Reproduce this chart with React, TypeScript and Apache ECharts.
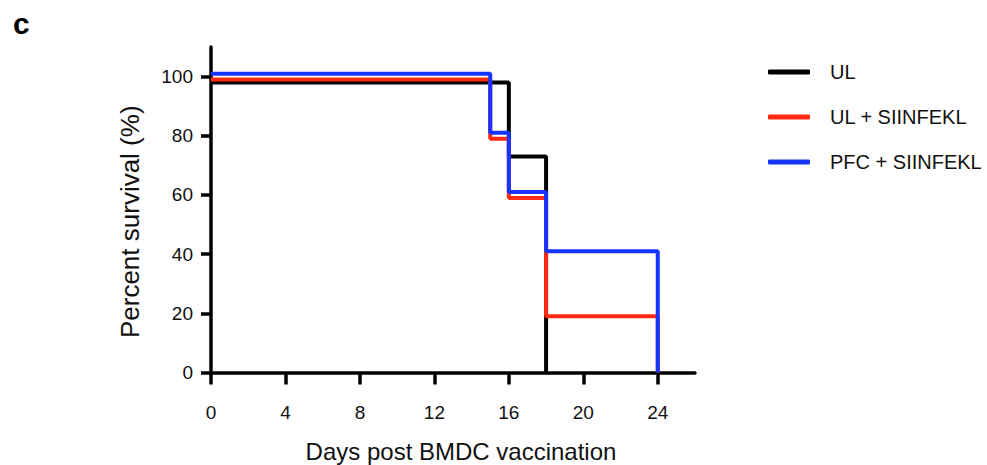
import React, { useEffect, useRef } from "react";
import * as echarts from "echarts";

const xTicks = [0, 4, 8, 12, 16, 20, 24];
const yTicks = [0, 20, 40, 60, 80, 100];
const seriesNames = ["UL", "UL + SIINFEKL", "PFC + SIINFEKL"];
const ulDays = [0, 16, 18];
const ulSurvival = [98, 73, 0];
const ulSiiDays = [0, 15, 16, 18, 24];
const ulSiiSurvival = [99, 79, 59, 19, 0];
const pfcSiiDays = [0, 15, 16, 18, 24];
const pfcSiiSurvival = [101, 81, 61, 41, 0];
const colors = ["#000000", "#ff2a12", "#1733ff"];

const FONT = "'Liberation Sans', Arial, Helvetica, sans-serif";

function pairs(days: number[], surv: number[]) {
  return days.map((d, i) => [d, surv[i]]);
}

export default function App() {
  const ref = useRef<HTMLDivElement>(null);
  useEffect(() => {
    document.body.style.margin = "0";
    if (!ref.current) return;
    const chart = echarts.init(ref.current, null, { renderer: "svg" });
    const groups = [
      pairs(ulDays, ulSurvival),
      pairs(ulSiiDays, ulSiiSurvival),
      pairs(pfcSiiDays, pfcSiiSurvival),
    ];
    chart.setOption({
      animation: false,
      backgroundColor: "#ffffff",
      textStyle: { fontFamily: FONT },
      grid: {
        left: 211,
        right: 292,
        top: 47,
        bottom: 92.5,
        containLabel: false,
        outerBoundsMode: "none",
      },
      graphic: [
        {
          type: "text",
          left: 13,
          top: 8,
          style: { text: "c", font: `bold 30px ${FONT}`, fill: "#000" },
        },
      ],
      legend: {
        orient: "vertical",
        left: 768,
        top: 62,
        padding: 0,
        itemWidth: 42,
        itemHeight: 5,
        itemGap: 25,
        icon: "roundRect",
        data: seriesNames,
        textStyle: {
          fontSize: 20,
          color: "#111",
          fontFamily: FONT,
          lineHeight: 20,
          padding: [0, 0, 0, 15],
        },
      },
      xAxis: {
        type: "value",
        min: 0,
        max: 26,
        name: "Days post BMDC vaccination",
        nameLocation: "middle",
        nameGap: 67,
        nameTextStyle: { fontSize: 24, color: "#111", fontFamily: FONT, padding: [0, 0, 0, 16] },
        axisLine: { show: true, onZero: false, lineStyle: { color: "#000", width: 3.5 } },
        axisTick: { show: true, customValues: xTicks, length: 12, lineStyle: { color: "#000", width: 3.5 } },
        axisLabel: { customValues: xTicks, fontSize: 19, color: "#111", margin: 30, fontFamily: FONT },
        splitLine: { show: false },
      },
      yAxis: {
        type: "value",
        min: 0,
        max: 110,
        name: "Percent survival (%)",
        nameLocation: "middle",
        nameGap: 68,
        nameTextStyle: { fontSize: 26, color: "#111", fontFamily: FONT, padding: [0, 24, 0, 0] },
        axisLine: { show: true, onZero: false, lineStyle: { color: "#000", width: 3.5 } },
        axisTick: { show: true, customValues: yTicks, length: 10, lineStyle: { color: "#000", width: 3.5 } },
        axisLabel: { customValues: yTicks, fontSize: 19, color: "#111", margin: 18, fontFamily: FONT },
        splitLine: { show: false },
      },
      series: seriesNames.map((name, i) => ({
        name,
        type: "line",
        step: "end",
        data: groups[i],
        symbol: "none",
        z: 2 + i,
        color: colors[i],
        lineStyle: { color: colors[i], width: 4 },
      })),
    });
    return () => chart.dispose();
  }, []);
  return <div ref={ref} style={{ width: 987, height: 465 }} />;
}
